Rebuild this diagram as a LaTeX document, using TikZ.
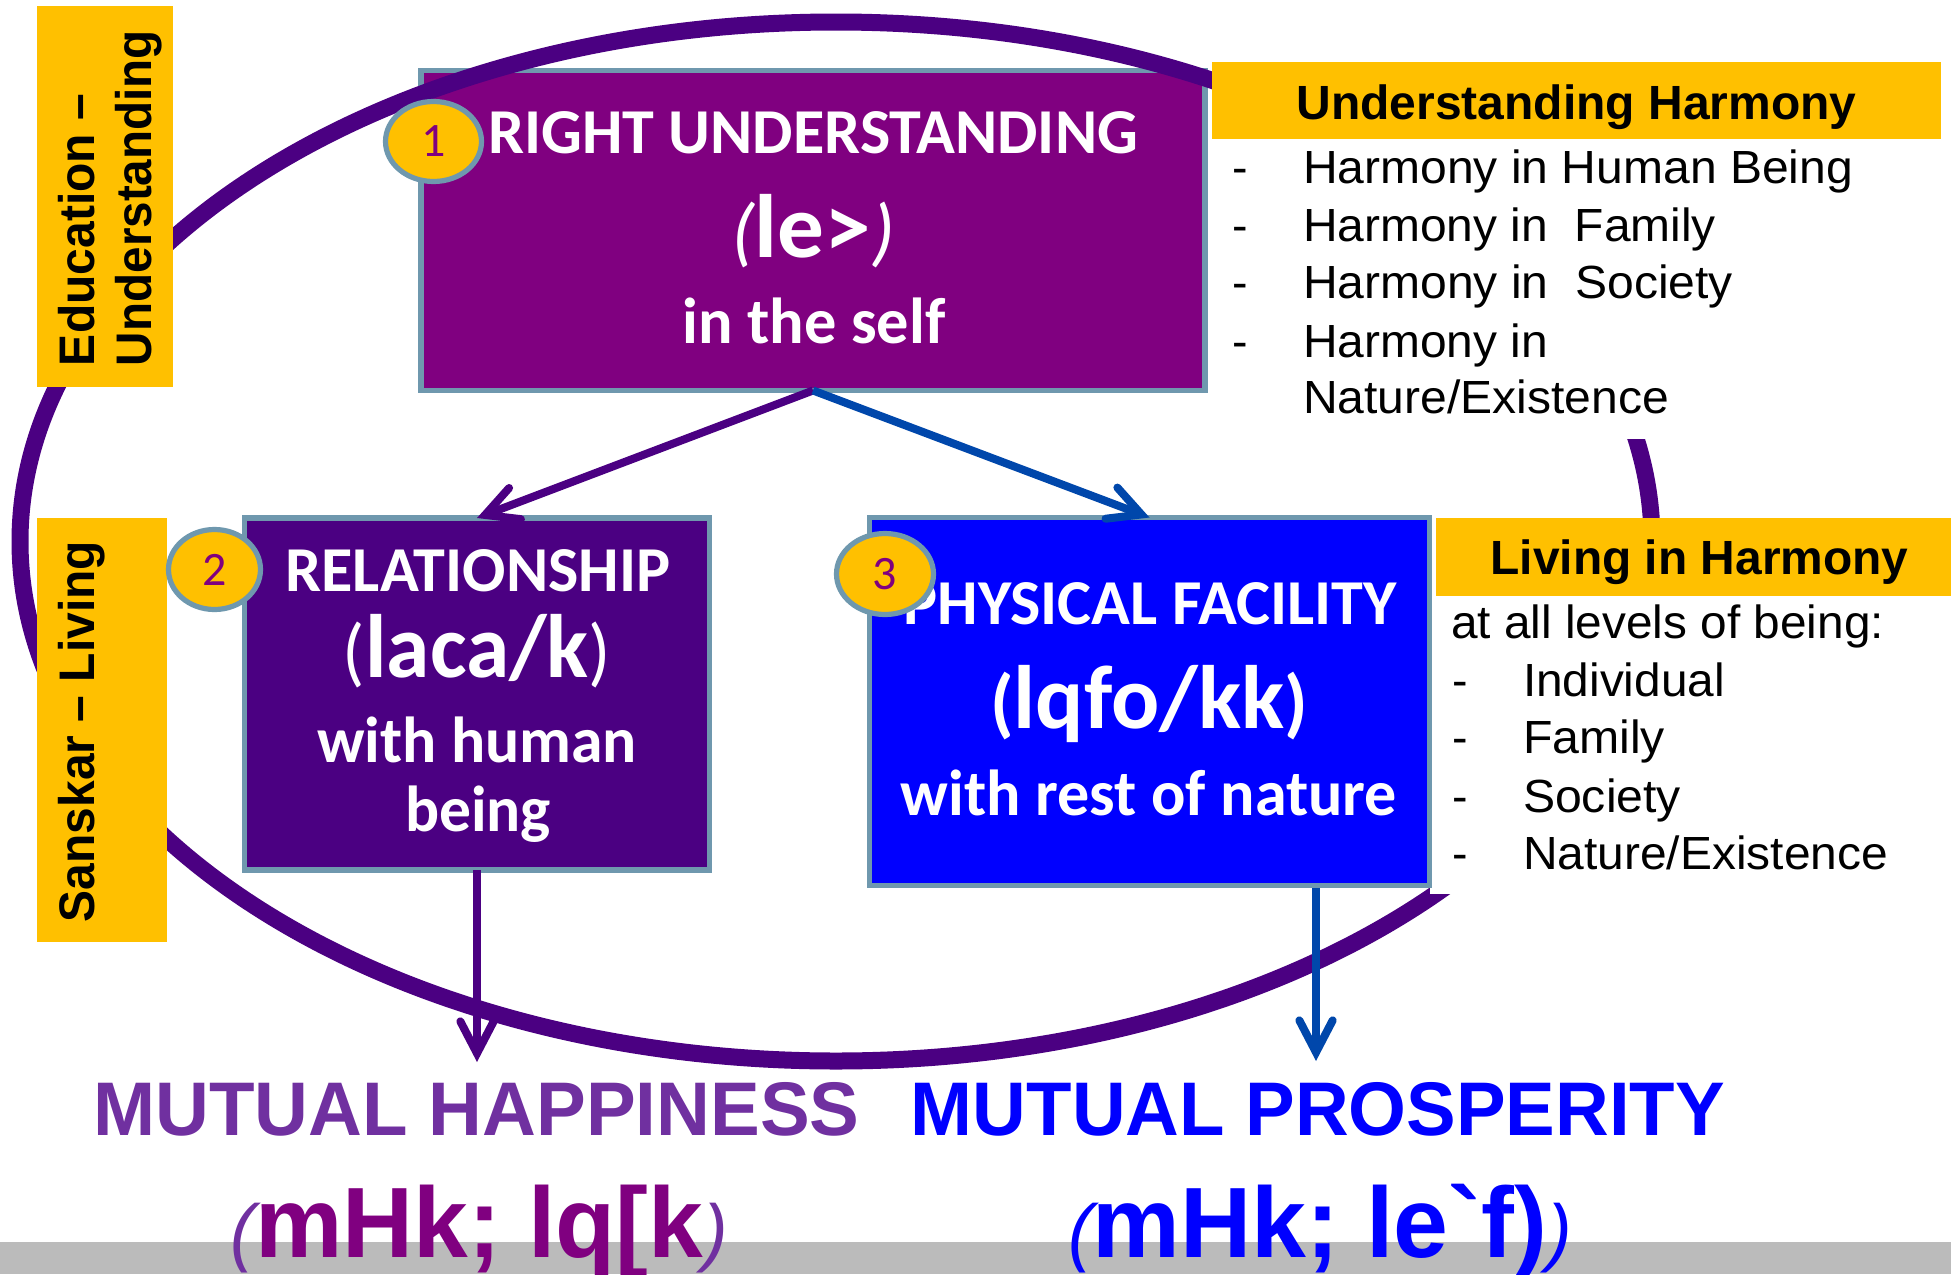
\documentclass[tikz,border=0pt]{standalone}
\usepackage{fontspec}
\usepackage{graphicx}
\usetikzlibrary{arrows.meta,shapes.geometric}
\setmainfont{Liberation Sans}
\newfontfamily\calfont{Carlito}
\newfontfamily\rawsans{Liberation Sans}
\newlength\pxu \setlength\pxu{0.75pt}
\newcommand\fs[1]{\fontsize{#1\pxu}{#1\pxu}\selectfont}
\newcommand\tw[2]{\resizebox{#1\pxu}{\height}{#2}}
\definecolor{orng}{HTML}{FFC000}
\definecolor{edge}{HTML}{6F98AE}
\definecolor{indi}{HTML}{4B0082}
\definecolor{purp}{HTML}{800080}
\definecolor{vio}{HTML}{7030A0}
\definecolor{cobalt}{HTML}{0047AB}
\definecolor{band}{HTML}{BBBBBB}
\tikzset{
  txt/.style={inner sep=0pt,outer sep=0pt,anchor=base},
  ltxt/.style={inner sep=0pt,outer sep=0pt,anchor=base west},
  wht/.style={txt,text=white,font=\calfont\bfseries},
  panel/.style={draw=edge,line width=3.9pt,inner sep=0pt,outer sep=0pt},
  tagbox/.style={fill=orng,draw=none,inner sep=0pt,outer sep=0pt},
  numdot/.style={ellipse,draw=edge,line width=3.9pt,fill=orng,inner sep=0pt,text=purp,font=\calfont\fs{48}},
  hd/.style={txt,font=\bfseries\fs{48}},
  body/.style={ltxt,font=\fs{46.5}},
  vert/.style={ltxt,rotate=90,font=\bfseries\fs{50}},
  lnk/.style={line width=6pt,-{Straight Barb[length=24pt,width=25pt,line width=6pt,line cap=round,line join=miter]}},
  ring/.style={draw=indi,line width=12.75pt},
}
\begin{document}
\begin{tikzpicture}[x=0.75pt,y=-0.75pt]
\useasboundingbox (0,0) rectangle (1951,1274);
\clip (0,0) rectangle (1951,1274);
\fill[white] (0,0) rectangle (1951,1274);
\fill[band] (0,1242) rectangle (1951,1274);

% top box sits under the ring
\node[panel,fill=purp,minimum width=784\pxu,minimum height=320\pxu] (ru) at (813,230.5) {};

\draw[ring] (836,541.5) ellipse [x radius=816,y radius=519.5];
\fill[white] (1212,62) rectangle (1951,439);
\fill[white] (1430,518) rectangle (1951,894);

% orange tags
\node[tagbox,minimum width=136\pxu,minimum height=381\pxu] (edu) at (105,196.5) {};
\node[tagbox,minimum width=130\pxu,minimum height=424\pxu] (san) at (102,730) {};
\node[tagbox,minimum width=729\pxu,minimum height=77\pxu] (uh) at (1576.5,100.5) {};
\node[tagbox,minimum width=515\pxu,minimum height=78\pxu] (lh) at (1693.5,557) {};

\node[vert] (edutxt) at (94,366) {\tw{272}{Education –}};
\node[vert] (undtxt) at (151.5,366) {\tw{336}{Understanding}};
\node[vert] (santxt) at (94,922) {\tw{381}{Sanskar – Living}};

% lower boxes
\node[panel,fill=indi,minimum width=465\pxu,minimum height=352\pxu] (rel) at (477,694) {};
\node[panel,fill=blue,minimum width=560\pxu,minimum height=368\pxu] (phys) at (1149.5,701.5) {};

% box texts
\node[wht,font=\calfont\bfseries\fs{64}] (t1) at (813,153) {\tw{650}{RIGHT UNDERSTANDING}};
\node[txt,text=white] (t2) at (813,257) {\tw{164}{{\calfont\itshape\fs{76}(}{\calfont\bfseries\fs{90}le>}{\calfont\itshape\fs{76})}}};
\node[wht,font=\calfont\bfseries\fs{65}] (t3) at (814,343) {\tw{263}{in the self}};

\node[wht,font=\calfont\bfseries\fs{64}] (r1) at (478,591) {\tw{385}{RELATIONSHIP}};
\node[txt,text=white] (r2) at (477,677) {\tw{268}{{\calfont\fs{76}(}{\calfont\bfseries\fs{90}laca/k}{\calfont\fs{76})}}};
\node[wht,font=\calfont\bfseries\fs{65}] (r3) at (477,762.5) {\tw{320}{with human}};
\node[wht,font=\calfont\bfseries\fs{65}] (r4) at (478,831) {\tw{146}{being}};

\node[wht,font=\calfont\bfseries\fs{64}] (p1) at (1150,624) {\tw{493}{PHYSICAL FACILITY}};
\node[txt,text=white] (p2) at (1149,728) {\tw{318}{{\calfont\bfseries\fs{76}(}{\calfont\bfseries\fs{90}lqfo/kk}{\calfont\bfseries\fs{76})}}};
\node[wht,font=\calfont\bfseries\fs{65}] (p3) at (1149,815) {\tw{496}{with rest of nature}};

% right texts
\node[hd] (uht) at (1576.5,119) {\tw{560}{Understanding Harmony}};
\node[body] at (1232,183.5) (d1) {-};
\node[body] at (1232,241.5) (d2) {-};
\node[body] at (1232,298) (d3) {-};
\node[body] at (1232,357) (d4) {-};
\node[body] at (1303,183.5) (h1) {\tw{550}{Harmony in Human Being}};
\node[body] at (1303,241.5) (h2) {\tw{413}{Harmony in\ \ Family}};
\node[body] at (1303,298) (h3) {\tw{430}{Harmony in\ \ Society}};
\node[body] at (1303,357) (h4) {\tw{245}{Harmony in}};
\node[body] at (1303,413) (h5) {\tw{366}{Nature/Existence}};

\node[hd] (lht) at (1699.5,574) {\tw{418}{Living in Harmony}};
\node[body] at (1451,638) (l0) {\tw{433}{at all levels of being:}};
\node[body] at (1452,696) (e1) {-};
\node[body] at (1452,753.5) (e2) {-};
\node[body] at (1452,812) (e3) {-};
\node[body] at (1452,869.5) (e4) {-};
\node[body] at (1523,696) (l1) {\tw{202}{Individual}};
\node[body] at (1523,753.5) (l2) {\tw{142}{Family}};
\node[body] at (1523,812) (l3) {\tw{158}{Society}};
\node[body] at (1523,869.5) (l4) {\tw{365}{Nature/Existence}};

% bottom headlines
\node[txt,text=vio,font=\bfseries\fs{76}] (mh) at (476.5,1135) {\tw{766}{MUTUAL HAPPINESS}};
\node[txt,text=blue,font=\bfseries\fs{76}] (mp) at (1318,1135) {\tw{814}{MUTUAL PROSPERITY}};
\node[txt] (mh2) at (479.5,1257) {\tw{497}{{\itshape\fs{75}\textcolor{vio}{(}}{\bfseries\fs{100}\textcolor{purp}{mHk; lq[k}}{\itshape\fs{75}\textcolor{vio}{)}}}};
\node[txt,text=blue] (mp2) at (1320,1257) {\tw{504}{{\itshape\fs{75}(}{\bfseries\fs{100}mHk; le{\rawsans\symbol{96}}f)}{\itshape\fs{75})}}};

% connectors
\coordinate (mhtip) at (477,1062);
\coordinate (mptip) at (1316,1061);
\coordinate (pfoot) at (1316,888);
\draw[lnk,draw=indi] (ru.south) -- (rel.north);
\draw[lnk,draw=cobalt] (ru.south) -- (phys.north);
\draw[lnk,draw=indi] (rel.south) -- (mhtip);
\draw[lnk,draw=cobalt] (pfoot) -- (mptip);

% numbered badges
\node[numdot,minimum width=96\pxu,minimum height=80\pxu] (n1) at (433.5,141.5) {1};
\node[numdot,minimum width=92\pxu,minimum height=80\pxu] (n2) at (214.5,569.5) {2};
\node[numdot,minimum width=97\pxu,minimum height=81\pxu] (n3) at (885,574) {3};
\end{tikzpicture}
\end{document}
